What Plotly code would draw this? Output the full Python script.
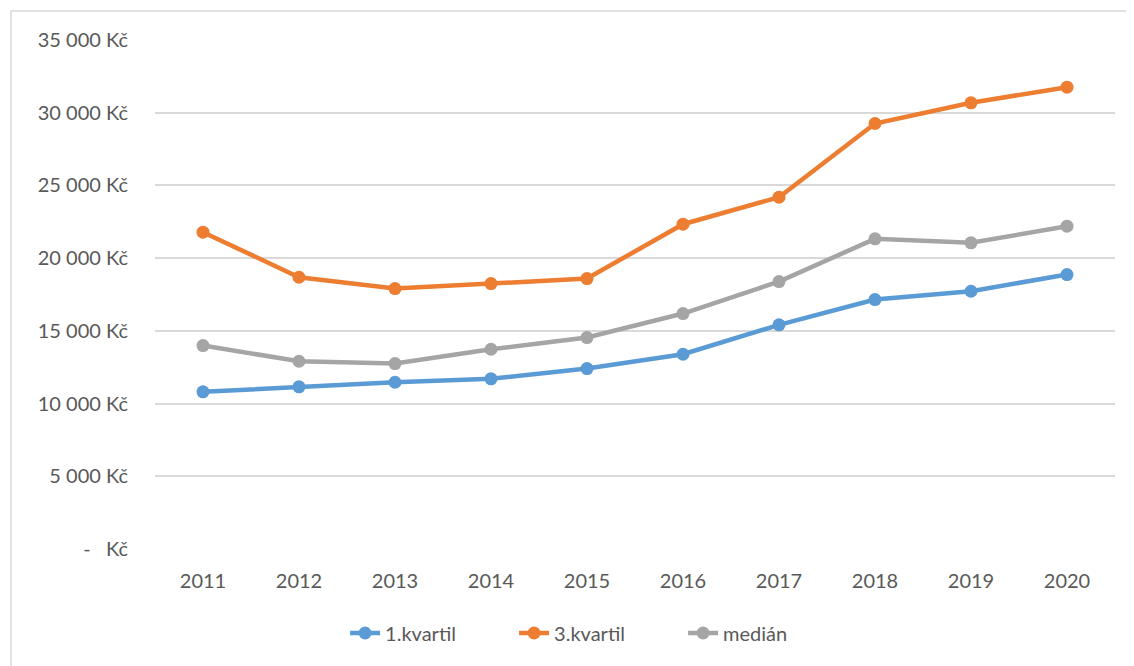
import plotly.graph_objects as go

years = ["2011", "2012", "2013", "2014", "2015", "2016", "2017", "2018", "2019", "2020"]
kvartil_1 = [10805, 11149, 11466, 11699, 12408, 13391, 15414, 17154, 17725, 18873]
kvartil_3 = [21783, 18687, 17910, 18254, 18598, 22333, 24190, 29259, 30682, 31756]
median = [13990, 12910, 12752, 13735, 14540, 16191, 18392, 21329, 21054, 22195]

y_tickvals = [0, 5000, 10000, 15000, 20000, 25000, 30000, 35000]
y_ticktext = ["-   Kč", "5 000 Kč", "10 000 Kč", "15 000 Kč", "20 000 Kč",
              "25 000 Kč", "30 000 Kč", "35 000 Kč"]

series = [
    ("1.kvartil", kvartil_1, "#5B9BD5"),
    ("3.kvartil", kvartil_3, "#ED7D31"),
    ("medián", median, "#A5A5A5"),
]

fig = go.Figure()
for name, values, color in series:
    fig.add_trace(go.Scatter(
        x=years,
        y=values,
        name=name,
        mode="lines+markers",
        line=dict(color=color, width=4.5),
        marker=dict(color=color, size=13),
    ))

# chart border (Excel-like frame, cropped at right and bottom)
fig.add_shape(
    type="rect", xref="paper", yref="paper",
    x0=-0.15, x1=1.04, y0=-0.3, y1=1.057,
    line=dict(color="#D9D9D9", width=1.5),
    fillcolor="rgba(0,0,0,0)", layer="below",
)

fig.update_layout(
    width=1134,
    height=666,
    margin=dict(l=147, r=27, t=32, b=125),
    paper_bgcolor="white",
    plot_bgcolor="white",
    font=dict(family="Lato", size=20, color="#595959"),
    showlegend=True,
    legend=dict(
        orientation="h",
        x=0.198, xanchor="left",
        y=-0.165, yanchor="middle",
        font=dict(size=20, color="#595959"),
        entrywidth=124,
        entrywidthmode="pixels",
    ),
    xaxis=dict(
        type="category",
        range=[-0.5, 9.5],
        showgrid=False,
        showline=False,
        zeroline=False,
        ticks="",
        ticklabelstandoff=18,
    ),
    yaxis=dict(
        range=[0, 35000],
        tickvals=y_tickvals,
        ticktext=y_ticktext,
        showgrid=True,
        gridcolor="#D9D9D9",
        gridwidth=1.5,
        zeroline=False,
        showline=False,
        ticks="",
        ticklabelstandoff=26,
    ),
)

fig.write_html("out.html")
